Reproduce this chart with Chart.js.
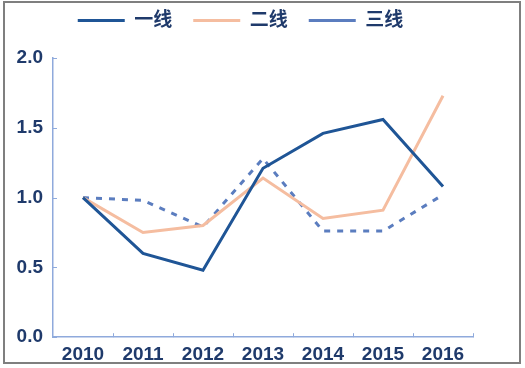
<!DOCTYPE html>
<html>
<head>
<meta charset="utf-8">
<script src="https://cdn.jsdelivr.net/npm/chart.js@4"></script>
<style>
  html, body { margin: 0; padding: 0; background: #fff; }
  #wrap { position: relative; width: 525px; height: 368px; }
  #frame { position: absolute; left: 3px; top: 1px; width: 518px; height: 363px;
           box-sizing: border-box; border: 2px solid #7f7f7f; pointer-events: none; }
</style>
</head>
<body>
<div id="wrap">
  <canvas id="grafico" width="525" height="368"></canvas>
  <div id="frame"></div>
</div>
<script>
const anos = ['2010', '2011', '2012', '2013', '2014', '2015', '2016'];
const linha1 = [1.0, 0.6, 0.48, 1.21, 1.46, 1.56, 1.08];
const linha2 = [1.0, 0.75, 0.8, 1.14, 0.85, 0.91, 1.73];
const linha3 = [1.0, 0.98, 0.79, 1.28, 0.76, 0.76, 1.02];
const nomes = ['一线', '二线', '三线'];

const corTexto = '#1f3a6b';
const corEixo = '#8faadc';

// empurra a legenda pra cima sem mexer na area do grafico
const moverLegenda = {
    id: 'moverLegenda',
    afterLayout(chart) {
        const leg = chart.legend;
        leg.top -= 18; leg.bottom -= 18;
        leg.left += 4; leg.right += 4;
    }
};

// tracinhos pra dentro do grafico
const marcas = {
    id: 'marcas',
    afterDraw(chart) {
        const ctx = chart.ctx;
        const x = chart.scales.x;
        const y = chart.scales.y;
        ctx.save();
        ctx.strokeStyle = corEixo;
        ctx.lineWidth = 1;
        y.ticks.forEach((t, i) => {
            const py = Math.round(y.getPixelForTick(i)) + 0.5;
            ctx.beginPath();
            ctx.moveTo(x.left, py);
            ctx.lineTo(x.left + 4, py);
            ctx.stroke();
        });
        for (let i = 1; i <= anos.length; i++) {
            const px = Math.round(x.getPixelForValue(i - 0.5)) + 0.5;
            ctx.beginPath();
            ctx.moveTo(px, y.bottom);
            ctx.lineTo(px, y.bottom - 4);
            ctx.stroke();
        }
        ctx.restore();
    }
};

new Chart(document.getElementById('grafico'), {
    type: 'line',
    data: {
        labels: anos,
        datasets: [{
            label: nomes[0],
            data: linha1,
            borderColor: '#1f5596',
            borderWidth: 3,
            pointRadius: 0,
            tension: 0
        }, {
            label: nomes[1],
            data: linha2,
            borderColor: '#f5bda0',
            borderWidth: 3,
            pointRadius: 0,
            tension: 0
        }, {
            label: nomes[2],
            data: linha3,
            borderColor: '#5b7dbf',
            borderWidth: 3,
            borderDash: [6, 7],
            pointRadius: 0,
            tension: 0
        }]
    },
    options: {
        responsive: false,
        devicePixelRatio: 1,
        animation: false,
        layout: {
            padding: { left: 0, right: 52, top: 8, bottom: -4 }
        },
        plugins: {
            tooltip: { enabled: false },
            legend: {
                position: 'top',
                labels: {
                    usePointStyle: true,
                    pointStyle: 'line',
                    pointStyleWidth: 47,
                    padding: 21,
                    color: corTexto,
                    font: { family: 'Liberation Sans, Noto Sans CJK SC', size: 19, weight: 'bold' }
                }
            }
        },
        scales: {
            x: {
                offset: true,
                grid: { display: false, offset: true, drawTicks: false },
                border: { display: true, color: corEixo, width: 1.5 },
                ticks: {
                    color: corTexto,
                    padding: 6,
                    font: { family: 'Liberation Sans', size: 19, weight: 'bold' }
                }
            },
            y: {
                min: 0,
                max: 2,
                grid: { display: false, drawTicks: false },
                border: { display: true, color: corEixo, width: 1.5 },
                afterFit: function (scale) { scale.width = 53; },
                ticks: {
                    stepSize: 0.5,
                    color: corTexto,
                    padding: 10,
                    font: { family: 'Liberation Sans', size: 19, weight: 'bold' },
                    callback: function (v) { return v.toFixed(1); }
                }
            }
        }
    },
    plugins: [moverLegenda, marcas]
});
</script>
</body>
</html>
